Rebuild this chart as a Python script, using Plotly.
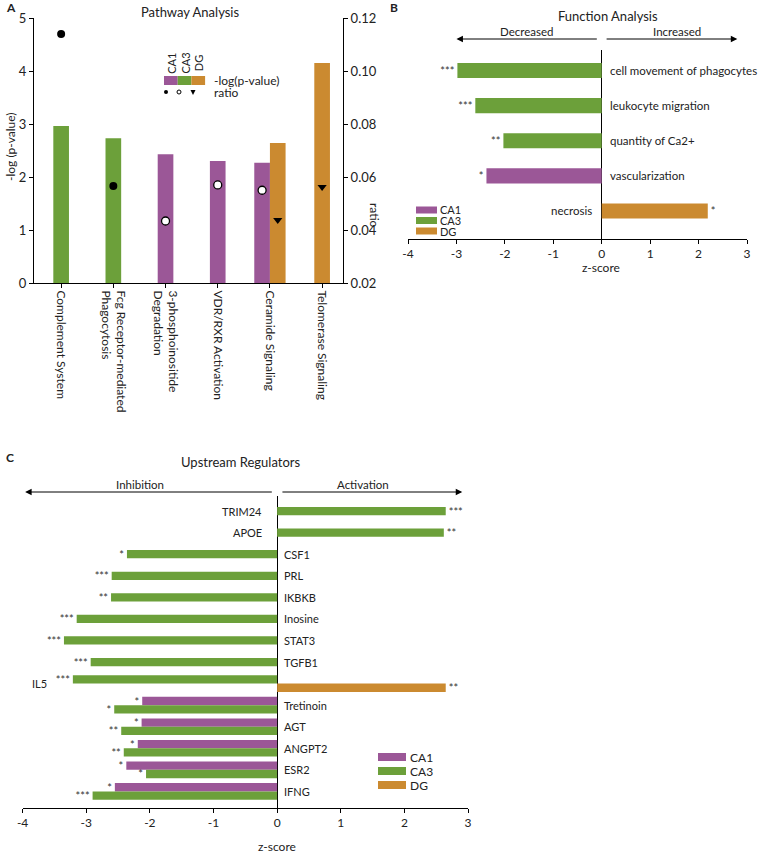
import plotly.graph_objects as go

W, H = 759, 853
FONT = "Lato"
PURPLE = "#9b5797"
GREEN = "#6ca03a"
ORANGE = "#cb8a30"
INK = "#222222"


def fx(p):
    return p / W


def fy(p):
    return 1 - p / H


# ---- panel A: pathway analysis ----
pathways = ["Complement System", "Fcg Receptor-mediated<br>Phagocytosis",
            "3-phosphoinositide<br>Degradation", "VDR/RXR Activation",
            "Ceramide Signaling", "Telomerase Signaling"]
a_ca1_paths = ["3-phosphoinositide<br>Degradation", "VDR/RXR Activation", "Ceramide Signaling"]
a_ca1_logp = [2.43, 2.30, 2.27]
a_ca1_ratio = [0.0434, 0.057, 0.055]
a_ca3_paths = ["Complement System", "Fcg Receptor-mediated<br>Phagocytosis"]
a_ca3_logp = [2.96, 2.73]
a_ca3_ratio = [0.114, 0.0566]
a_dg_paths = ["Ceramide Signaling", "Telomerase Signaling"]
a_dg_logp = [2.64, 4.15]
a_dg_ratio = [0.0438, 0.0562]

# ---- panel B: function analysis ----
functions = ["cell movement of phagocytes", "leukocyte migration", "quantity of Ca2+",
             "vascularization", "necrosis"]
b_ca1_funcs = ["vascularization"]
b_ca1_z = [-2.38]
b_ca1_sig = ["*"]
b_ca3_funcs = ["cell movement of phagocytes", "leukocyte migration", "quantity of Ca2+"]
b_ca3_z = [-2.98, -2.61, -2.03]
b_ca3_sig = ["***", "***", "**"]
b_dg_funcs = ["necrosis"]
b_dg_z = [2.19]
b_dg_sig = ["*"]

# ---- panel C: upstream regulators ----
regulators = ["TRIM24", "APOE", "CSF1", "PRL", "IKBKB", "Inosine", "STAT3", "TGFB1",
              "IL5", "Tretinoin", "AGT", "ANGPT2", "ESR2", "IFNG"]
c_ca1_regs = ["Tretinoin", "AGT", "ANGPT2", "ESR2", "IFNG"]
c_ca1_z = [-2.12, -2.13, -2.19, -2.37, -2.55]
c_ca1_sig = ["*", "*", "*", "*", "*"]
c_ca3_regs = list(regulators)
c_ca3_z = [2.65, 2.62, -2.36, -2.60, -2.61, -3.15, -3.35, -2.93, -3.21,
           -2.56, -2.45, -2.41, -2.06, -2.90]
c_ca3_sig = ["***", "**", "*", "***", "**", "***", "***", "***", "***",
             "*", "**", "**", "*", "***"]
c_dg_regs = ["IL5"]
c_dg_z = [2.65]
c_dg_sig = ["**"]

z_ticks = [-4, -3, -2, -1, 0, 1, 2, 3]


def offsets(series, cats, width):
    # centre single bars, stack shared categories side by side
    members = {c: [i for i, s in enumerate(series) if c in s] for c in cats}
    out = []
    for i, s in enumerate(series):
        row = []
        for c in s:
            m = members[c]
            row.append(-width * len(m) / 2 + width * m.index(i))
        out.append(row)
    return out


fig = go.Figure()

# panel A bars + ratio markers
BW_A = 0.3
a_series = [a_ca1_paths, a_ca3_paths, a_dg_paths]
a_off = offsets(a_series, pathways, BW_A)
a_vals = [a_ca1_logp, a_ca3_logp, a_dg_logp]
a_ratios = [a_ca1_ratio, a_ca3_ratio, a_dg_ratio]
a_cols = [PURPLE, GREEN, ORANGE]
a_marks = [dict(symbol="circle", color="white", size=8, line=dict(color="black", width=1.3)),
           dict(symbol="circle", color="black", size=8),
           dict(symbol="triangle-down", color="black", size=8)]
for paths, vals, rat, off, col, mk in zip(a_series, a_vals, a_ratios, a_off, a_cols, a_marks):
    xs = [pathways.index(p) for p in paths]
    fig.add_trace(go.Bar(x=xs, y=vals, width=BW_A, offset=off, marker_color=col,
                         marker_line_width=0, xaxis="x", yaxis="y", showlegend=False))
    fig.add_trace(go.Scatter(x=[x + o + BW_A / 2 for x, o in zip(xs, off)], y=rat,
                             mode="markers", marker=mk, xaxis="x", yaxis="y2",
                             showlegend=False, cliponaxis=False))

STAR = dict(size=11, color="#333", family=FONT)

# panel B bars
BW_B = 0.43
b_series = [b_ca1_funcs, b_ca3_funcs, b_dg_funcs]
b_off = offsets(b_series, functions, BW_B)
for funcs, vals, sig, off, col in zip(b_series, [b_ca1_z, b_ca3_z, b_dg_z],
                                      [b_ca1_sig, b_ca3_sig, b_dg_sig], b_off, a_cols):
    fig.add_trace(go.Bar(y=funcs, x=vals, orientation="h", width=BW_B, offset=off,
                         marker_color=col, marker_line_width=0, text=sig,
                         textposition="outside", constraintext="none", cliponaxis=False,
                         textfont=STAR, xaxis="x2", yaxis="y3", showlegend=False))

# panel C bars
BW_C = 0.385
c_series = [c_ca1_regs, c_ca3_regs, c_dg_regs]
c_off = offsets(c_series, regulators, BW_C)
for regs, vals, sig, off, col in zip(c_series, [c_ca1_z, c_ca3_z, c_dg_z],
                                     [c_ca1_sig, c_ca3_sig, c_dg_sig], c_off, a_cols):
    fig.add_trace(go.Bar(y=regs, x=vals, orientation="h", width=BW_C, offset=off,
                         marker_color=col, marker_line_width=0, text=sig,
                         textposition="outside", constraintext="none", cliponaxis=False,
                         textfont=STAR, xaxis="x3", yaxis="y4", showlegend=False))

ann = []
shapes = []


def text(x, y, s, size=12, **kw):
    d = dict(x=fx(x), y=fy(y), xref="paper", yref="paper", text=s, showarrow=False,
             xanchor="center", yanchor="middle",
             font=dict(size=size, color=INK, family=FONT))
    d.update(kw)
    ann.append(d)


# panel letters and titles
text(4, 8, "<b>A</b>", 12, xanchor="left")
text(388, 8, "<b>B</b>", 12, xanchor="left")
text(4, 457, "<b>C</b>", 12, xanchor="left")
text(190, 12, "Pathway Analysis", 13)
text(608, 16, "Function Analysis", 13)
text(240, 462, "Upstream Regulators", 13)
text(10, 147, "-log (p-value)", 12, textangle=-90)
text(375, 215, "ratio", 12, textangle=90)
text(601, 267, "z-score", 12)
text(277, 846, "z-score", 12)

# panel A legend
for i, (lab, col) in enumerate(zip(["CA1", "CA3", "DG"], a_cols)):
    x0 = 164 + 13.7 * i
    shapes.append(dict(type="rect", xref="paper", yref="paper", x0=fx(x0), x1=fx(x0 + 13.7),
                       y0=fy(85), y1=fy(76), fillcolor=col, line_width=0))
    text(x0 + 6.8, 63, lab, 11, textangle=-90)
text(212, 80, "-log(p-value)", 12, xanchor="left")
text(212, 92, "ratio", 12, xanchor="left")
shapes.append(dict(type="circle", xref="paper", yref="paper", x0=fx(164), x1=fx(168),
                   y0=fy(94), y1=fy(90), fillcolor="black", line_width=0))
shapes.append(dict(type="circle", xref="paper", yref="paper", x0=fx(177), x1=fx(181),
                   y0=fy(94), y1=fy(90), fillcolor="white", line=dict(color="black", width=1)))
shapes.append(dict(type="path", xref="paper", yref="paper",
                   path=f"M {fx(190.5)} {fy(90)} L {fx(195.5)} {fy(90)} L {fx(193)} {fy(95)} Z",
                   fillcolor="black", line_width=0))

# B / C legends
for i, (lab, col) in enumerate(zip(["CA1", "CA3", "DG"], a_cols)):
    y = 210 + 10.5 * i
    shapes.append(dict(type="rect", xref="paper", yref="paper", x0=fx(416), x1=fx(437),
                       y0=fy(y + 3.5), y1=fy(y - 3.5), fillcolor=col, line_width=0))
    text(437.5, y, lab, 11, xanchor="left")
    y = 757 + 14 * i
    shapes.append(dict(type="rect", xref="paper", yref="paper", x0=fx(378), x1=fx(406),
                       y0=fy(y + 4), y1=fy(y - 4), fillcolor=col, line_width=0))
    text(408, y, lab, 12, xanchor="left")


def arrow(xref, head, tail, y):
    ann.append(dict(x=head, y=fy(y), xref=xref, yref="paper", ax=tail, ay=0,
                    axref=xref, ayref="pixel", text="", showarrow=True, arrowhead=2,
                    arrowsize=1.3, arrowwidth=1, arrowcolor="black", standoff=0,
                    startstandoff=0))


arrow("x2", -3.0, -0.07, 39)
arrow("x2", 2.8, 0.07, 39)
arrow("x3", -3.96, -0.06, 492)
arrow("x3", 2.91, 0.06, 492)
for xr, xv, y, s in [("x2", -1.55, 32, "Decreased"), ("x2", 1.55, 32, "Increased"),
                     ("x3", -2.15, 485, "Inhibition"), ("x3", 1.35, 484, "Activation")]:
    ann.append(dict(x=xv, y=fy(y), xref=xr, yref="paper", text=s, showarrow=False,
                    xanchor="center", yanchor="middle",
                    font=dict(size=11.5, color=INK, family=FONT)))


# row labels sit on the opposite side of zero from the bars
def row_labels(cats, series, vals, xref, yref, size, far_x, gap_l, gap_r):
    for i, c in enumerate(cats):
        v = [vv[s.index(c)] for s, vv in zip(series, vals) if c in s]
        neg, pos = any(x < 0 for x in v), any(x > 0 for x in v)
        if neg and pos:
            d = dict(x=far_x, xanchor="left", xshift=7)
        elif neg:
            d = dict(x=0, xanchor="left", xshift=gap_l)
        else:
            d = dict(x=0, xanchor="right", xshift=-gap_r)
        d.update(y=i, xref=xref, yref=yref, text=c, showarrow=False, yanchor="middle",
                 font=dict(size=size, color=INK, family=FONT))
        ann.append(d)


row_labels(functions, b_series, [b_ca1_z, b_ca3_z, b_dg_z], "x2", "y3", 11.5, -4, 6, 8)
row_labels(regulators, c_series, [c_ca1_z, c_ca3_z, c_dg_z], "x3", "y4", 11, -4, 5, 13)

axis_common = dict(showgrid=False, showline=True, linecolor="black", linewidth=1,
                   ticks="outside", ticklen=4, tickcolor="black", zeroline=False,
                   automargin=False, tickfont=dict(size=12, color=INK, family=FONT))
z_axis = dict(axis_common, range=[z_ticks[0], z_ticks[-1]], tickvals=z_ticks,
              ticktext=[str(t) for t in z_ticks], zeroline=True, zerolinecolor="black",
              zerolinewidth=1)

fig.update_layout(
    width=W, height=H, margin=dict(l=0, r=0, t=0, b=0, pad=0),
    paper_bgcolor="white", plot_bgcolor="white", barmode="overlay",
    font=dict(family=FONT, color=INK),
    xaxis=dict(axis_common, domain=[fx(34), fx(343)], range=[-0.52, 5.40], anchor="y",
               tickvals=list(range(len(pathways))), ticktext=pathways, tickangle=90,
               tickfont=dict(size=12, color=INK, family=FONT)),
    yaxis=dict(axis_common, domain=[fy(283), fy(18)], range=[0, 5], dtick=1, anchor="x",
               tickfont=dict(size=13, color=INK, family=FONT)),
    yaxis2=dict(axis_common, overlaying="y", side="right", anchor="x", range=[0.02, 0.12],
                dtick=0.02, tickformat=".2f", tickfont=dict(size=13, color=INK, family=FONT)),
    xaxis2=dict(z_axis, domain=[fx(408), fx(747)], anchor="y3"),
    yaxis3=dict(domain=[fy(239), fy(50)], anchor="x2", type="category", automargin=False,
                categoryorder="array", categoryarray=functions, range=[4.8, -0.586],
                showticklabels=False, showline=False, showgrid=False, ticks=""),
    xaxis3=dict(z_axis, domain=[fx(22.6), fx(468)], anchor="y4"),
    yaxis4=dict(domain=[fy(808), fy(496)], anchor="x3", type="category", automargin=False,
                categoryorder="array", categoryarray=regulators, range=[13.77, -0.70],
                showticklabels=False, showline=False, showgrid=False, ticks=""),
    annotations=ann, shapes=shapes,
)

# the default page body has an 8px margin; drop it so the figure fills the window
fig.write_html("out.html", config={"displayModeBar": False},
               post_script="document.body.style.margin='0';")
